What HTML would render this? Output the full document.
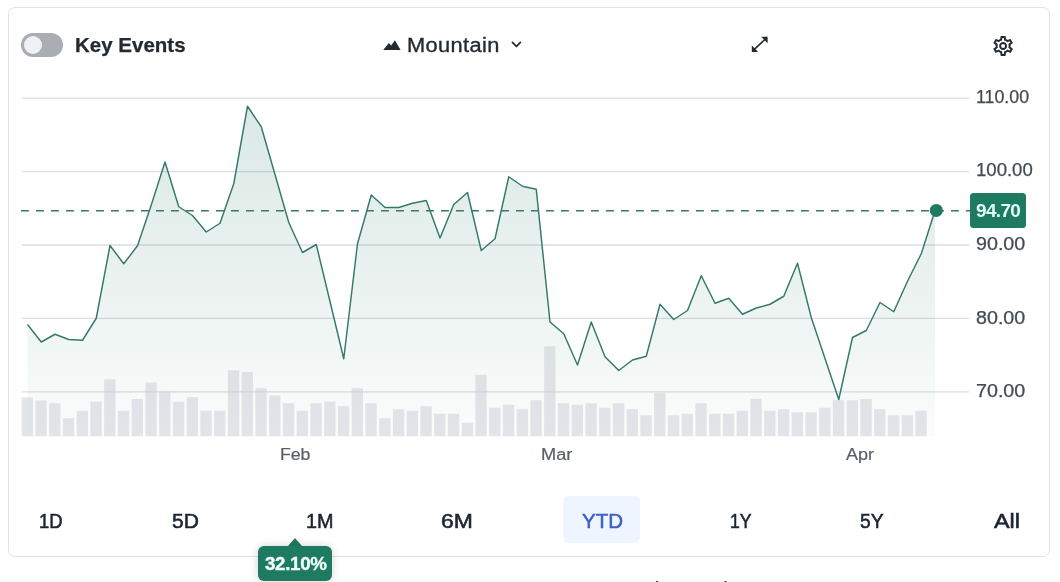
<!DOCTYPE html>
<html lang="en"><head><meta charset="utf-8"><title>Chart</title>
<style>
html,body{margin:0;padding:0;background:#fff;}
body{width:1060px;height:582px;position:relative;overflow:hidden;font-family:"Liberation Sans",Arial,sans-serif;color:#232a31;}
.card{position:absolute;left:8px;top:7px;width:1040px;height:548px;border:1px solid #e1e2e3;border-radius:7px;background:#fff;}
.abs{position:absolute;white-space:nowrap;line-height:1;}
.toggle{position:absolute;left:21px;top:33px;width:42px;height:24px;border-radius:12px;background:#abadb5;}
.knob{position:absolute;left:3px;top:3px;width:18px;height:18px;border-radius:9px;background:#eff1f6;}
.ke{left:75px;top:34.9px;font-size:20.5px;font-weight:700;color:#232a31;-webkit-text-stroke:0.25px #232a31;}
.mt{left:407px;top:35px;font-size:20px;letter-spacing:0.35px;transform-origin:0 50%;transform:scaleX(1.09);-webkit-text-stroke:0.35px #232a31;color:#232a31;}
.yl{font-size:17.5px;color:#434a52;-webkit-text-stroke:0.25px #434a52;}
.xl{font-size:16px;color:#596067;-webkit-text-stroke:0.2px #596067;}
.rg{font-size:20px;color:#1d2433;-webkit-text-stroke:0.55px #1d2433;}
.pill{position:absolute;left:563px;top:496px;width:77px;height:47px;border-radius:6px;background:#eff5fe;}
.badge{position:absolute;left:970px;top:193px;width:56px;height:35px;border-radius:3.5px;background:#1f7a62;}
.badge span{position:absolute;left:5.5px;top:10px;font-size:17.5px;font-weight:700;color:#e0fff6;letter-spacing:-0.6px;line-height:1;transform-origin:0 50%;transform:scaleX(1.085);}
.tip{position:absolute;left:258px;top:546px;width:74px;height:35px;border-radius:6px;background:#1f7a62;box-shadow:0 0 8px rgba(0,0,0,0.18);}
.tip span{position:absolute;left:6.6px;top:8.7px;-webkit-text-stroke:0.35px #f2fffb;font-size:18px;font-weight:700;color:#f2fffb;letter-spacing:-0.3px;line-height:1;transform-origin:0 50%;transform:scaleX(1.04);}
.tiparrow{position:absolute;left:288px;top:538px;width:0;height:0;border-left:7px solid transparent;border-right:7px solid transparent;border-bottom:8px solid #1f7a62;}
.foot{font-size:14px;font-weight:700;color:#232a31;top:579.6px;}
</style></head><body>
<div class="card"></div>
<div class="toggle"><div class="knob"></div></div>
<div class="abs ke">Key Events</div>
<div class="abs mt">Mountain</div>
<svg class="abs" style="left:0;top:0" width="1060" height="582" viewBox="0 0 1060 582">
<defs>
<linearGradient id="area" gradientUnits="userSpaceOnUse" x1="0" y1="106" x2="0" y2="436">
<stop offset="0" stop-color="#2b7d66" stop-opacity="0.17"/>
<stop offset="0.55" stop-color="#2b7d66" stop-opacity="0.095"/>
<stop offset="1" stop-color="#2b7d66" stop-opacity="0.02"/>
</linearGradient>
</defs>
<!-- mountain icon -->
<path d="M383.2,50 L388.9,43 L391.2,45.6 L394.9,40.2 L400.6,50 Z" fill="#232a31"/>
<!-- chevron -->
<path d="M512.4,42.3 L516.4,46.4 L520.4,42.3" fill="none" stroke="#232a31" stroke-width="1.7" stroke-linecap="round" stroke-linejoin="round"/>
<!-- expand icon -->
<g fill="#232a31" stroke="none">
<path d="M767.6,36.8 L761.2,36.8 L767.6,43.2 Z"/>
<path d="M751.8,51.9 L751.8,45.5 L758.2,51.9 Z"/>
</g>
<line x1="754" y1="49.7" x2="765.4" y2="39" stroke="#232a31" stroke-width="1.6"/>
<!-- gear -->
<path transform="translate(991.1 33.9)" fill="#232a31" d="M19.43 12.98c.04-.32.07-.64.07-.98 0-.34-.03-.66-.07-.98l2.11-1.65c.19-.15.24-.42.12-.64l-2-3.46c-.09-.16-.26-.25-.44-.25-.06 0-.12.01-.17.03l-2.49 1c-.52-.4-1.08-.73-1.69-.98l-.38-2.65C14.46 2.18 14.25 2 14 2h-4c-.25 0-.46.18-.49.42l-.38 2.65c-.61.25-1.17.59-1.69.98l-2.49-1c-.06-.02-.12-.03-.18-.03-.17 0-.34.09-.43.25l-2 3.46c-.13.22-.07.49.12.64l2.11 1.65c-.04.32-.07.65-.07.98 0 .33.03.66.07.98l-2.11 1.65c-.19.15-.24.42-.12.64l2 3.46c.09.16.26.25.44.25.06 0 .12-.01.17-.03l2.49-1c.52.4 1.08.73 1.69.98l.38 2.65c.03.24.24.42.49.42h4c.25 0 .46-.18.49-.42l.38-2.65c.61-.25 1.17-.59 1.69-.98l2.49 1c.06.02.12.03.18.03.17 0 .34-.09.43-.25l2-3.46c.12-.22.07-.49-.12-.64l-2.11-1.65zm-1.98-1.71c.04.31.05.52.05.73 0 .21-.02.43-.05.73l-.14 1.13.89.7 1.08.84-.7 1.21-1.27-.51-1.04-.42-.9.68c-.43.32-.84.56-1.25.73l-1.06.43-.16 1.13-.2 1.35h-1.4l-.19-1.35-.16-1.13-1.06-.43c-.43-.18-.83-.41-1.23-.71l-.91-.7-1.06.43-1.27.51-.7-1.21 1.08-.84.89-.7-.14-1.13c-.03-.31-.05-.54-.05-.74s.02-.43.05-.73l.14-1.13-.89-.7-1.08-.84.7-1.21 1.27.51 1.04.42.9-.68c.43-.32.84-.56 1.25-.73l1.06-.43.16-1.13.2-1.35h1.39l.19 1.35.16 1.13 1.06.43c.43.18.83.41 1.23.71l.91.7 1.06-.43 1.27-.51.7 1.21-1.07.85-.89.7.14 1.13zM12 8c-2.21 0-4 1.79-4 4s1.79 4 4 4 4-1.79 4-4-1.79-4-4-4zm0 6c-1.1 0-2-.9-2-2s.9-2 2-2 2 .9 2 2-.9 2-2 2z"/>
<!-- grid -->
<g stroke="#dcdddd" stroke-width="1.3"><line x1="22" x2="969" y1="98.2" y2="98.2"/><line x1="22" x2="969" y1="171.6" y2="171.6"/><line x1="22" x2="969" y1="245.0" y2="245.0"/><line x1="22" x2="969" y1="318.4" y2="318.4"/><line x1="22" x2="969" y1="391.9" y2="391.9"/></g>
<!-- area -->
<path d="M27.50,436 L27.50,324.50 L41.25,342.00 L55.00,334.25 L68.75,339.50 L82.50,340.25 L96.25,318.25 L110.00,245.50 L123.75,263.75 L137.50,245.75 L151.25,205.00 L165.00,162.00 L178.75,206.75 L192.50,215.50 L206.25,232.00 L220.00,223.25 L233.75,183.75 L247.50,106.25 L261.25,126.75 L275.00,174.50 L288.75,222.50 L302.50,252.50 L316.25,244.50 L330.00,301.50 L343.75,358.75 L357.50,243.75 L371.25,195.00 L385.00,207.50 L398.75,207.50 L412.50,203.25 L426.25,200.50 L440.00,238.00 L453.75,204.50 L467.50,192.50 L481.25,250.50 L495.00,238.75 L508.75,176.75 L522.50,186.25 L536.25,189.25 L550.00,322.00 L563.75,333.75 L577.50,365.00 L591.25,322.00 L605.00,356.75 L618.75,370.50 L632.50,360.00 L646.25,356.25 L660.00,304.25 L673.75,319.50 L687.50,310.50 L701.25,275.75 L715.00,303.25 L728.75,298.25 L742.50,314.25 L756.25,308.00 L770.00,304.25 L783.75,296.25 L797.50,263.25 L811.25,317.50 L825.00,358.50 L838.75,399.50 L852.50,337.50 L866.25,330.50 L880.00,302.50 L893.75,311.75 L907.50,281.25 L921.25,253.75 L935.00,210.75 L935.00,436 Z" fill="url(#area)"/>
<!-- bars -->
<g fill="#c9ced4" fill-opacity="0.52"><rect x="21.65" y="397.50" width="11.3" height="38.75"/><rect x="35.40" y="400.50" width="11.3" height="35.75"/><rect x="49.15" y="403.25" width="11.3" height="33.00"/><rect x="62.90" y="418.25" width="11.3" height="18.00"/><rect x="76.65" y="410.75" width="11.3" height="25.50"/><rect x="90.40" y="401.75" width="11.3" height="34.50"/><rect x="104.15" y="379.25" width="11.3" height="57.00"/><rect x="117.90" y="410.75" width="11.3" height="25.50"/><rect x="131.65" y="399.00" width="11.3" height="37.25"/><rect x="145.40" y="382.50" width="11.3" height="53.75"/><rect x="159.15" y="391.75" width="11.3" height="44.50"/><rect x="172.90" y="401.75" width="11.3" height="34.50"/><rect x="186.65" y="397.25" width="11.3" height="39.00"/><rect x="200.40" y="410.75" width="11.3" height="25.50"/><rect x="214.15" y="410.75" width="11.3" height="25.50"/><rect x="227.90" y="370.25" width="11.3" height="66.00"/><rect x="241.65" y="372.00" width="11.3" height="64.25"/><rect x="255.40" y="388.25" width="11.3" height="48.00"/><rect x="269.15" y="395.50" width="11.3" height="40.75"/><rect x="282.90" y="403.25" width="11.3" height="33.00"/><rect x="296.65" y="410.75" width="11.3" height="25.50"/><rect x="310.40" y="403.25" width="11.3" height="33.00"/><rect x="324.15" y="401.50" width="11.3" height="34.75"/><rect x="337.90" y="406.25" width="11.3" height="30.00"/><rect x="351.65" y="388.25" width="11.3" height="48.00"/><rect x="365.40" y="403.25" width="11.3" height="33.00"/><rect x="379.15" y="418.25" width="11.3" height="18.00"/><rect x="392.90" y="409.25" width="11.3" height="27.00"/><rect x="406.65" y="410.75" width="11.3" height="25.50"/><rect x="420.40" y="406.25" width="11.3" height="30.00"/><rect x="434.15" y="413.75" width="11.3" height="22.50"/><rect x="447.90" y="413.75" width="11.3" height="22.50"/><rect x="461.65" y="422.75" width="11.3" height="13.50"/><rect x="475.40" y="374.75" width="11.3" height="61.50"/><rect x="489.15" y="407.75" width="11.3" height="28.50"/><rect x="502.90" y="404.75" width="11.3" height="31.50"/><rect x="516.65" y="409.25" width="11.3" height="27.00"/><rect x="530.40" y="400.25" width="11.3" height="36.00"/><rect x="544.15" y="346.25" width="11.3" height="90.00"/><rect x="557.90" y="403.25" width="11.3" height="33.00"/><rect x="571.65" y="404.75" width="11.3" height="31.50"/><rect x="585.40" y="403.25" width="11.3" height="33.00"/><rect x="599.15" y="407.75" width="11.3" height="28.50"/><rect x="612.90" y="403.25" width="11.3" height="33.00"/><rect x="626.65" y="409.25" width="11.3" height="27.00"/><rect x="640.40" y="415.25" width="11.3" height="21.00"/><rect x="654.15" y="392.75" width="11.3" height="43.50"/><rect x="667.90" y="415.25" width="11.3" height="21.00"/><rect x="681.65" y="413.75" width="11.3" height="22.50"/><rect x="695.40" y="403.25" width="11.3" height="33.00"/><rect x="709.15" y="413.75" width="11.3" height="22.50"/><rect x="722.90" y="413.75" width="11.3" height="22.50"/><rect x="736.65" y="410.75" width="11.3" height="25.50"/><rect x="750.40" y="398.75" width="11.3" height="37.50"/><rect x="764.15" y="410.75" width="11.3" height="25.50"/><rect x="777.90" y="409.25" width="11.3" height="27.00"/><rect x="791.65" y="412.25" width="11.3" height="24.00"/><rect x="805.40" y="412.25" width="11.3" height="24.00"/><rect x="819.15" y="407.75" width="11.3" height="28.50"/><rect x="832.90" y="400.25" width="11.3" height="36.00"/><rect x="846.65" y="400.25" width="11.3" height="36.00"/><rect x="860.40" y="399.00" width="11.3" height="37.25"/><rect x="874.15" y="409.25" width="11.3" height="27.00"/><rect x="887.90" y="415.25" width="11.3" height="21.00"/><rect x="901.65" y="415.25" width="11.3" height="21.00"/><rect x="915.40" y="410.75" width="11.3" height="25.50"/></g>
<!-- dashed -->
<line x1="21" x2="970" y1="210.7" y2="210.7" stroke="#3d7766" stroke-width="1.4" stroke-dasharray="7.9 7.1"/>
<!-- line -->
<polyline points="27.50,324.50 41.25,342.00 55.00,334.25 68.75,339.50 82.50,340.25 96.25,318.25 110.00,245.50 123.75,263.75 137.50,245.75 151.25,205.00 165.00,162.00 178.75,206.75 192.50,215.50 206.25,232.00 220.00,223.25 233.75,183.75 247.50,106.25 261.25,126.75 275.00,174.50 288.75,222.50 302.50,252.50 316.25,244.50 330.00,301.50 343.75,358.75 357.50,243.75 371.25,195.00 385.00,207.50 398.75,207.50 412.50,203.25 426.25,200.50 440.00,238.00 453.75,204.50 467.50,192.50 481.25,250.50 495.00,238.75 508.75,176.75 522.50,186.25 536.25,189.25 550.00,322.00 563.75,333.75 577.50,365.00 591.25,322.00 605.00,356.75 618.75,370.50 632.50,360.00 646.25,356.25 660.00,304.25 673.75,319.50 687.50,310.50 701.25,275.75 715.00,303.25 728.75,298.25 742.50,314.25 756.25,308.00 770.00,304.25 783.75,296.25 797.50,263.25 811.25,317.50 825.00,358.50 838.75,399.50 852.50,337.50 866.25,330.50 880.00,302.50 893.75,311.75 907.50,281.25 921.25,253.75 935.00,210.75" fill="none" stroke="#34796a" stroke-width="1.45" stroke-linejoin="round"/>
<circle cx="936.3" cy="210.4" r="6.5" fill="#1f7a62"/>
</svg>
<div class="pill"></div>
<div class="abs yl" style="left:976.00px;top:88.70px;transform-origin:0 50%;transform:scaleX(1.0160);">110.00</div>
<div class="abs yl" style="left:976.00px;top:162.30px;transform-origin:0 50%;transform:scaleX(1.0600);">100.00</div>
<div class="abs yl" style="left:975.80px;top:235.90px;transform-origin:0 50%;transform:scaleX(1.1250);">90.00</div>
<div class="abs yl" style="left:975.80px;top:309.50px;transform-origin:0 50%;transform:scaleX(1.1250);">80.00</div>
<div class="abs yl" style="left:975.80px;top:383.10px;transform-origin:0 50%;transform:scaleX(1.1250);">70.00</div>
<div class="abs xl" style="left:280.30px;top:447.00px;transform-origin:0 50%;transform:scaleX(1.1040);">Feb</div>
<div class="abs xl" style="left:541.20px;top:447.00px;transform-origin:0 50%;transform:scaleX(1.1400);">Mar</div>
<div class="abs xl" style="left:845.60px;top:447.00px;transform-origin:0 50%;transform:scaleX(1.1250);">Apr</div>
<div class="abs rg" style="left:38.70px;top:511.30px;transform-origin:0 50%;transform:scaleX(0.9210);">1D</div>
<div class="abs rg" style="left:172.10px;top:511.30px;transform-origin:0 50%;transform:scaleX(1.0520);">5D</div>
<div class="abs rg" style="left:305.50px;top:511.30px;transform-origin:0 50%;transform:scaleX(0.9900);">1M</div>
<div class="abs rg" style="left:441.00px;top:511.30px;transform-origin:0 50%;transform:scaleX(1.1470);">6M</div>
<div class="abs rg" style="left:582.00px;top:511.30px;transform-origin:0 50%;transform:scaleX(1.0260);color:#3f5fc4;-webkit-text-stroke-color:#3f5fc4;">YTD</div>
<div class="abs rg" style="left:729.90px;top:511.30px;transform-origin:0 50%;transform:scaleX(0.8840);">1Y</div>
<div class="abs rg" style="left:860.30px;top:511.30px;transform-origin:0 50%;transform:scaleX(0.9630);">5Y</div>
<div class="abs rg" style="left:994.00px;top:511.30px;transform-origin:0 50%;transform:scaleX(1.1670);">All</div>
<div class="badge"><span>94.70</span></div>
<div class="tiparrow"></div>
<div class="tip"><span>32.10%</span></div>
<div class="abs foot" style="left:655.3px">l</div>
<div class="abs foot" style="left:723.5px">l</div>
</body></html>
